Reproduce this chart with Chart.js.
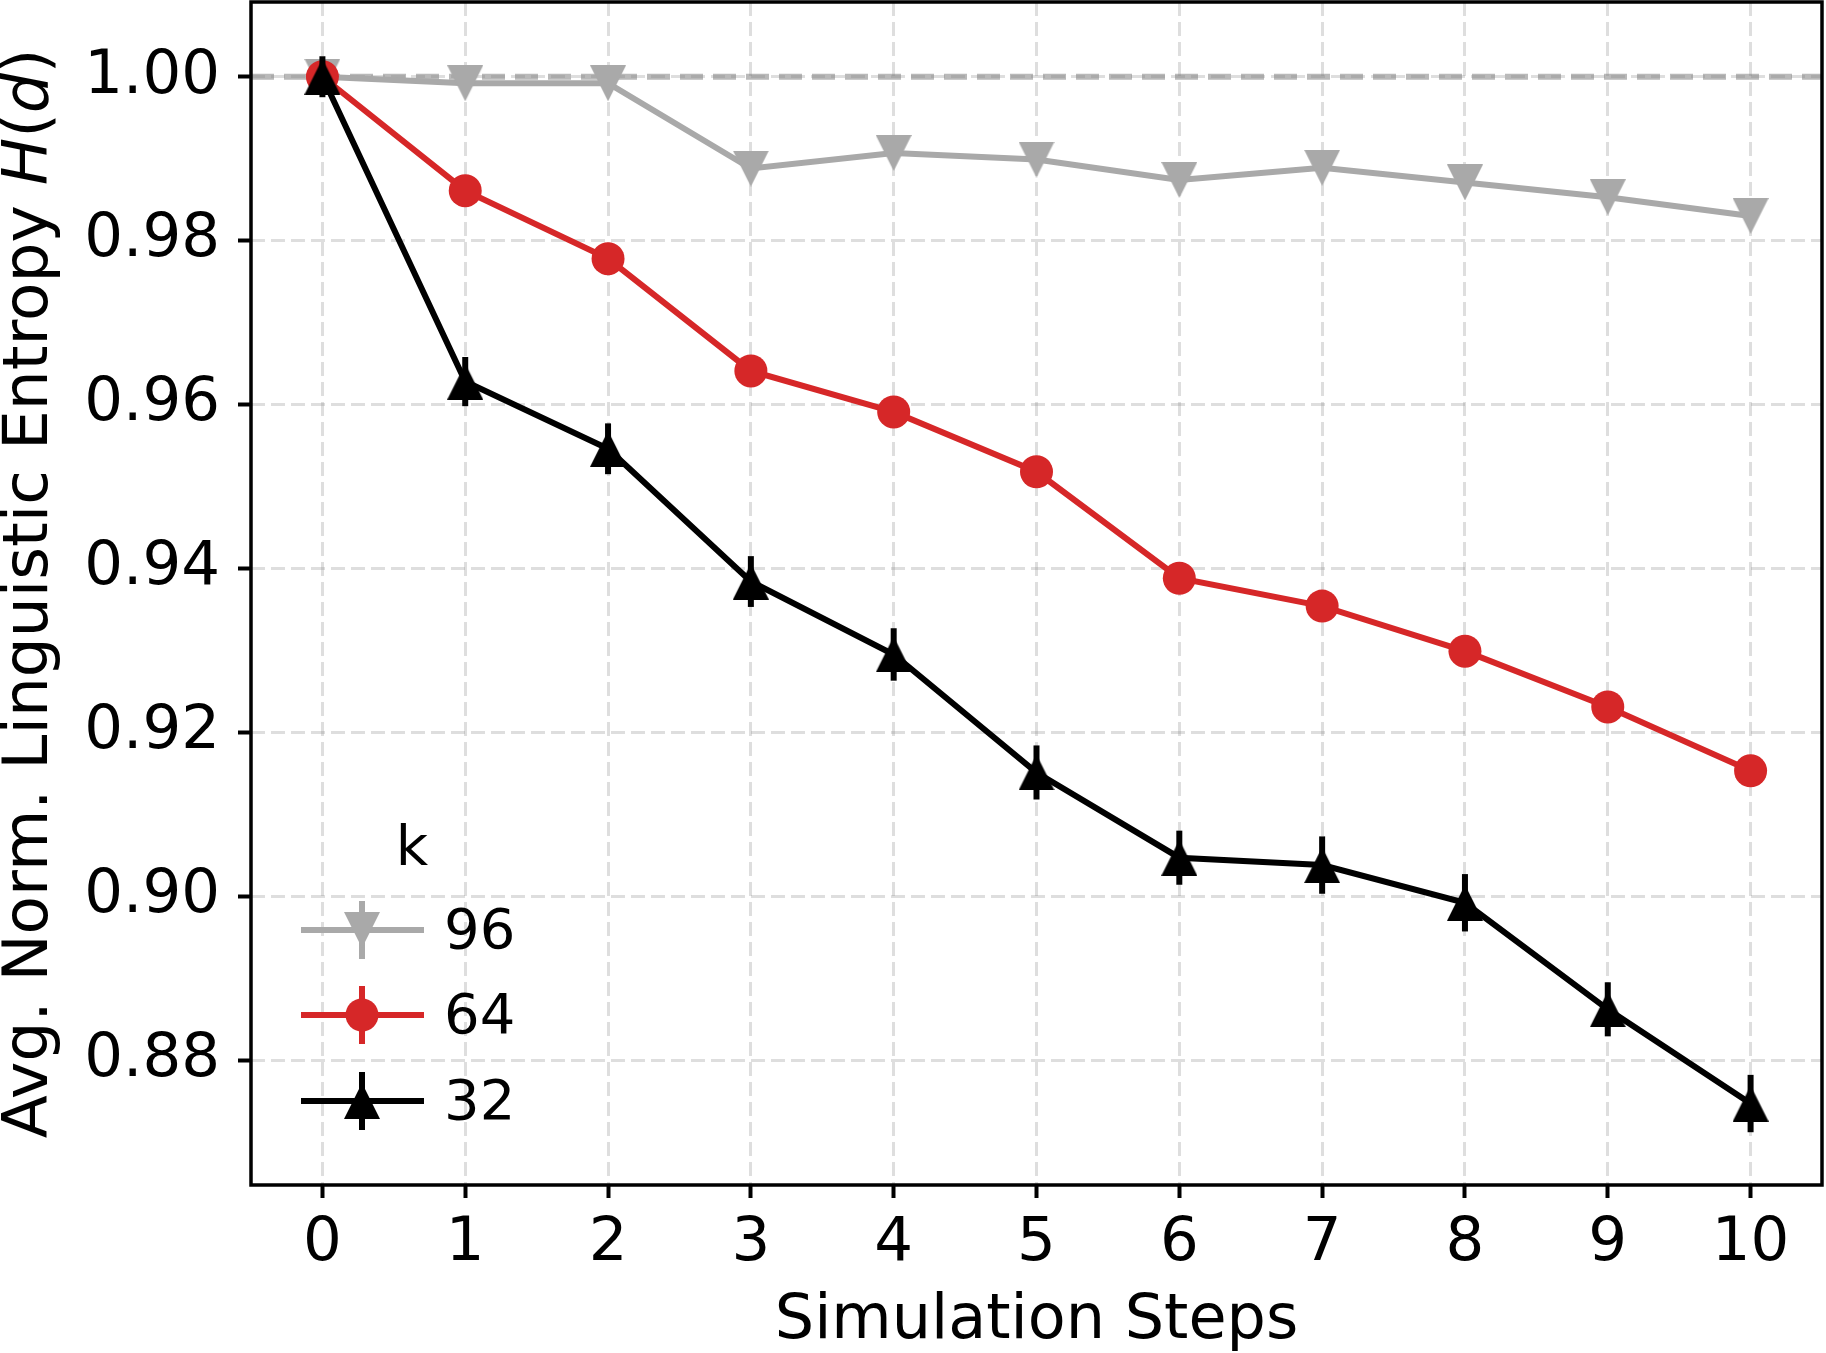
<!DOCTYPE html>
<html>
<head>
<meta charset="utf-8">
<script src="https://cdn.jsdelivr.net/npm/chart.js@4/dist/chart.umd.min.js"></script>
<style>
html, body { margin: 0; padding: 0; background: #ffffff; }
#wrap { width: 1826px; height: 1353px; }
</style>
</head>
<body>
<div id="wrap"><canvas id="c" width="1826" height="1353"></canvas></div>
<script>
// ---- data ----
const steps = ['0', '1', '2', '3', '4', '5', '6', '7', '8', '9', '10'];
const kLabels = ['96', '64', '32'];
const entropy96 = [1.0000, 0.9992, 0.9992, 0.9888, 0.9907, 0.9899, 0.9874, 0.9889, 0.9871, 0.9853, 0.9830];
const entropy64 = [1.0000, 0.9861, 0.9778, 0.9641, 0.9591, 0.9518, 0.9388, 0.9354, 0.9299, 0.9231, 0.9153];
const entropy32 = [1.0000, 0.9628, 0.9546, 0.9384, 0.9295, 0.9151, 0.9047, 0.9038, 0.8992, 0.8862, 0.8747];
const err96 = [0.0005, 0.0005, 0.0005, 0.0008, 0.0008, 0.0008, 0.0008, 0.0008, 0.0008, 0.0008, 0.0008];
const err64 = [0.0010, 0.0012, 0.0012, 0.0012, 0.0012, 0.0012, 0.0012, 0.0012, 0.0012, 0.0012, 0.0012];
const err32 = [0.0025, 0.0030, 0.0031, 0.0031, 0.0032, 0.0033, 0.0033, 0.0035, 0.0035, 0.0033, 0.0035];
const yTickValues = [0.88, 0.90, 0.92, 0.94, 0.96, 0.98, 1.00];
const refValue = 1.00;
const xTitle = 'Simulation Steps';
const yTitleParts = [['Avg. Norm. Linguistic Entropy ', false], ['H', true], ['(', false], ['d', true], [')', false]];
const legendTitle = 'k';

// ---- styles ----
const FONT = "'DejaVu Sans'";
const colors = ['#a9a9a9', '#d62728', '#000000'];

function triCanvas(color, size, down) {
  const c = document.createElement('canvas');
  c.width = size; c.height = size;
  const g = c.getContext('2d');
  g.fillStyle = color;
  g.beginPath();
  if (down) { g.moveTo(0, 0); g.lineTo(size, 0); g.lineTo(size / 2, size); }
  else { g.moveTo(size / 2, 0); g.lineTo(size, size); g.lineTo(0, size); }
  g.closePath();
  g.fill();
  return c;
}
const markerDown = triCanvas(colors[0], 36, true);
const markerUp = triCanvas(colors[2], 36, false);

const seriesValues = [entropy96, entropy64, entropy32];
const seriesErrors = [err96, err64, err32];
const markers = [markerDown, 'circle', markerUp];
const markerRadius = [18, 16.5, 18];
const drawOrder = [2, 1, 0];

const datasets = kLabels.map((lab, i) => ({
  label: lab,
  data: seriesValues[i],
  errors: seriesErrors[i],
  borderColor: colors[i],
  backgroundColor: colors[i],
  borderWidth: 6,
  tension: 0,
  pointStyle: markers[i],
  pointRadius: markerRadius[i],
  pointHoverRadius: markerRadius[i],
  pointBackgroundColor: colors[i],
  pointBorderColor: colors[i],
  pointBorderWidth: 0,
  order: drawOrder[i],
  clip: false
}));

// ---- plugins ----
const refLinePlugin = {
  id: 'refLine',
  beforeDatasetsDraw(chart) {
    const {ctx, chartArea} = chart;
    const y = chart.scales.y.getPixelForValue(refValue);
    ctx.save();
    ctx.strokeStyle = 'rgba(128,128,128,0.55)';
    ctx.lineWidth = 6;
    ctx.setLineDash([23, 10]);
    ctx.beginPath();
    ctx.moveTo(chartArea.left, y);
    ctx.lineTo(chartArea.right, y);
    ctx.stroke();
    ctx.restore();
  }
};

const errorBarPlugin = {
  id: 'errorBars',
  beforeDatasetDraw(chart, args) {
    const ds = chart.data.datasets[args.index];
    const meta = args.meta;
    const ys = chart.scales.y;
    const ctx = chart.ctx;
    ctx.save();
    ctx.strokeStyle = ds.borderColor;
    ctx.lineWidth = 6;
    ctx.lineCap = 'butt';
    meta.data.forEach((pt, i) => {
      const v = ds.data[i], e = ds.errors[i];
      ctx.beginPath();
      ctx.moveTo(pt.x, ys.getPixelForValue(v + e));
      ctx.lineTo(pt.x, ys.getPixelForValue(v - e));
      ctx.stroke();
    });
    ctx.restore();
  }
};

const decorPlugin = {
  id: 'decor',
  afterDraw(chart) {
    const {ctx, chartArea} = chart;
    ctx.save();
    // frame
    ctx.strokeStyle = '#000';
    ctx.lineWidth = 3.5;
    ctx.setLineDash([]);
    ctx.strokeRect(chartArea.left, chartArea.top, chartArea.right - chartArea.left, chartArea.bottom - chartArea.top);

    // y title with italic parts
    const size = 63;
    const cy = (chartArea.top + chartArea.bottom) / 2;
    const fontFor = it => (it ? 'italic ' : '') + size + 'px ' + FONT;
    let total = 0;
    yTitleParts.forEach(([t, it]) => { ctx.font = fontFor(it); total += ctx.measureText(t).width; });
    ctx.translate(47, cy);
    ctx.rotate(-Math.PI / 2);
    ctx.fillStyle = '#000';
    ctx.textBaseline = 'alphabetic';
    ctx.textAlign = 'left';
    let x = -total / 2;
    yTitleParts.forEach(([t, it]) => { ctx.font = fontFor(it); ctx.fillText(t, x, 0); x += ctx.measureText(t).width; });
    ctx.restore();

    // legend
    ctx.save();
    ctx.fillStyle = '#000';
    ctx.font = '56px ' + FONT;
    ctx.textAlign = 'center';
    ctx.textBaseline = 'alphabetic';
    ctx.fillText(legendTitle, 412, 865);
    const rows = [930, 1015, 1101];
    kLabels.forEach((lab, i) => {
      const y = rows[i];
      ctx.strokeStyle = colors[i];
      ctx.lineWidth = 6;
      ctx.beginPath(); ctx.moveTo(301, y); ctx.lineTo(424, y); ctx.stroke();
      ctx.beginPath(); ctx.moveTo(362, y - 29); ctx.lineTo(362, y + 29); ctx.stroke();
      const m = markers[i];
      if (m === 'circle') {
        ctx.fillStyle = colors[i];
        ctx.beginPath(); ctx.arc(362, y, markerRadius[i], 0, Math.PI * 2); ctx.fill();
      } else {
        ctx.drawImage(m, 362 - m.width / 2, y - m.height / 2);
      }
      ctx.fillStyle = '#000';
      ctx.textAlign = 'left';
      ctx.textBaseline = 'middle';
      ctx.fillText(lab, 444, y + 3);
    });
    ctx.restore();
  }
};

Chart.defaults.font.family = FONT;
Chart.defaults.color = '#000';

new Chart(document.getElementById('c'), {
  type: 'line',
  data: { labels: steps, datasets: datasets },
  plugins: [refLinePlugin, errorBarPlugin, decorPlugin],
  options: {
    responsive: false,
    devicePixelRatio: 1,
    animation: false,
    events: [],
    layout: { autoPadding: false, padding: { top: 2, right: 4, left: 0, bottom: 0 } },
    plugins: { legend: { display: false }, tooltip: { enabled: false } },
    scales: {
      x: {
        type: 'category',
        offset: true,
        afterFit: s => { s.height = 168; s.paddingLeft = 0; s.paddingRight = 0; s.paddingTop = 0; s.paddingBottom = 0; },
        grid: {
          color: 'rgba(128,128,128,0.26)', lineWidth: 3,
          tickColor: '#000', tickWidth: 4, tickLength: 13, tickBorderDash: []
        },
        border: { display: false, dash: [14, 6] },
        ticks: { font: { size: 61, lineHeight: 1.2 }, color: '#000', padding: 10, maxRotation: 0, autoSkip: false },
        title: { display: true, text: xTitle, font: { size: 62, lineHeight: 1 }, color: '#000', padding: { top: 0, bottom: 0 } }
      },
      y: {
        type: 'linear',
        min: 0.86476,
        max: 1.00912,
        afterFit: s => { s.width = 251; s.paddingLeft = 0; s.paddingRight = 0; s.paddingTop = 0; s.paddingBottom = 0; },
        afterBuildTicks: s => { s.ticks = yTickValues.map(v => ({ value: v })); },
        grid: {
          color: 'rgba(128,128,128,0.26)', lineWidth: 3,
          tickColor: '#000', tickWidth: 4, tickLength: 13, tickBorderDash: []
        },
        border: { display: false, dash: [14, 6] },
        ticks: { font: { size: 61, lineHeight: 1.2 }, color: '#000', padding: 18, callback: v => Number(v).toFixed(2) },
        title: { display: false }
      }
    }
  }
});
</script>
</body>
</html>
